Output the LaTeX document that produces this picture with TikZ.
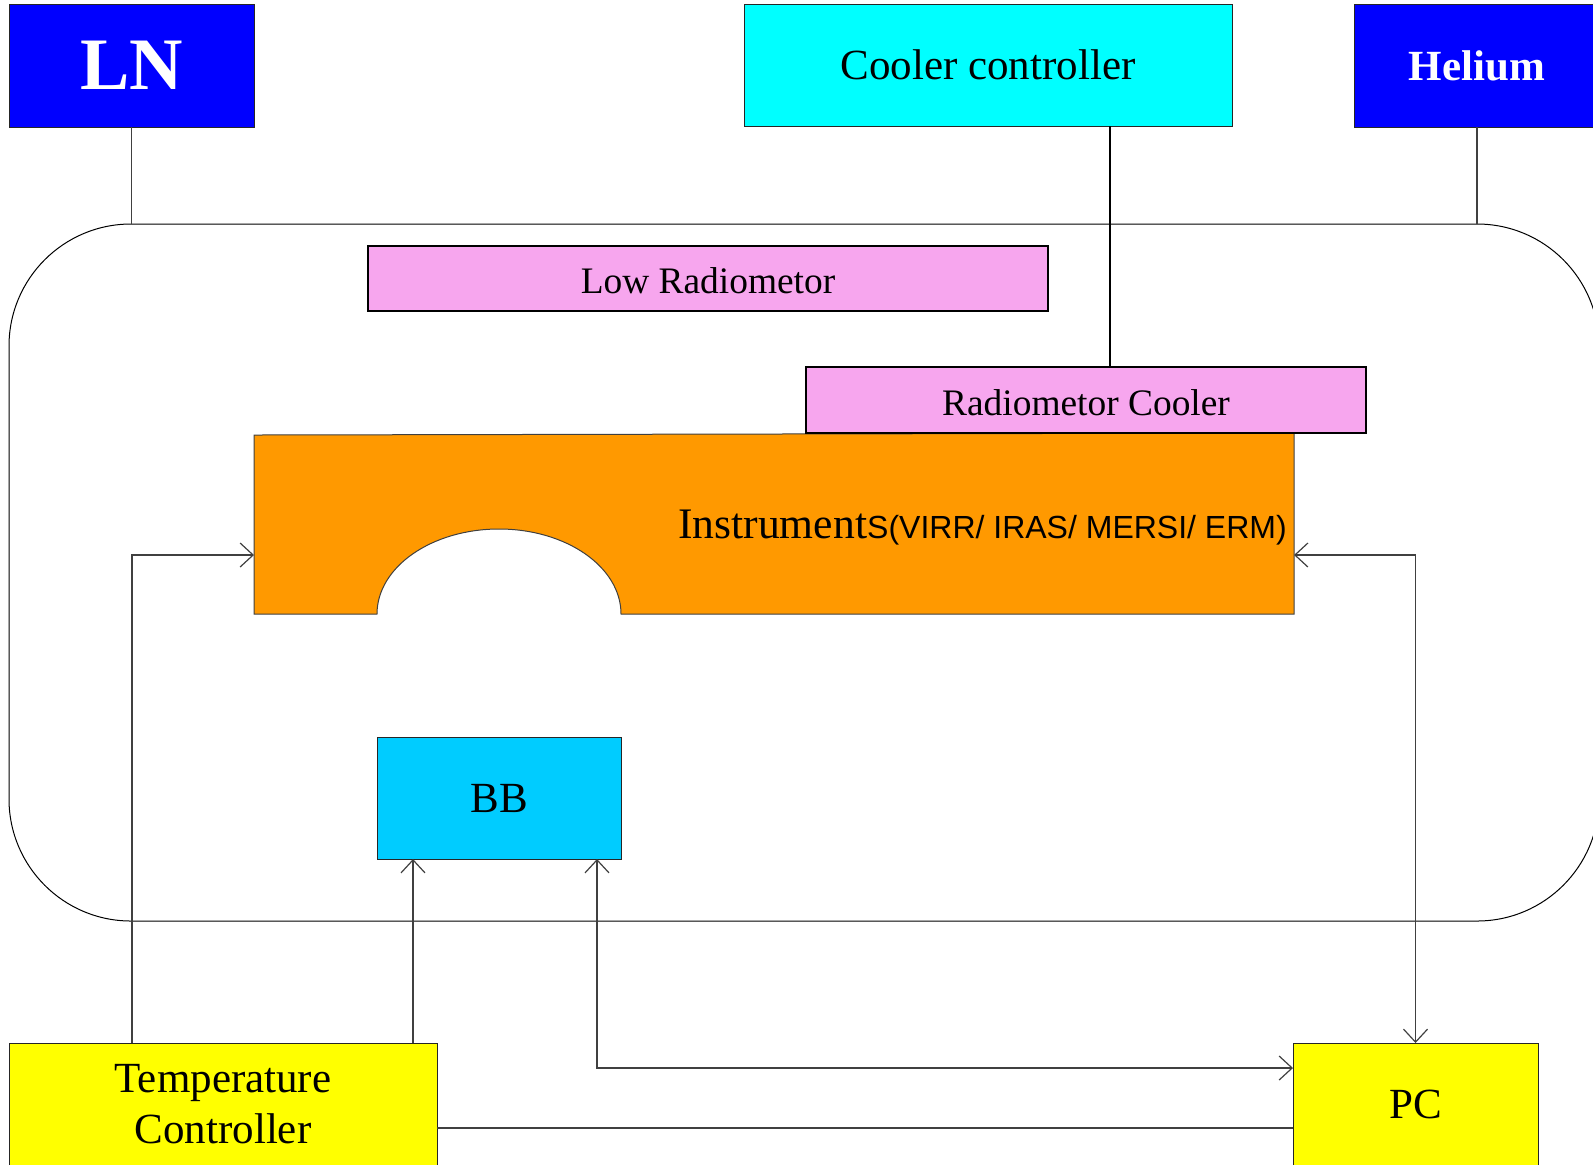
\documentclass[tikz,border=0pt]{standalone}
\usepackage{fontspec}
\setmainfont{Liberation Serif}
\newfontfamily\arialf{Liberation Sans}
\usetikzlibrary{arrows.meta}
\definecolor{boxblue}{HTML}{0000FF}
\definecolor{coolcyan}{HTML}{00FFFF}
\definecolor{bbcyan}{HTML}{00CCFF}
\definecolor{pinkbox}{HTML}{F7A6EE}
\definecolor{orangebox}{HTML}{FF9900}
\definecolor{yelbox}{HTML}{FFFF00}
\definecolor{linegray}{HTML}{404040}
\tikzset{
  box/.style={draw=black!85, line width=0.5pt, inner sep=0pt, outer sep=0pt, align=center},
  conn/.style={draw=linegray, line width=0.6pt},
  arr/.style={conn, -{Straight Barb[length=6.5pt,width=12pt]}},
  darr/.style={conn, {Straight Barb[length=6.5pt,width=12pt]}-{Straight Barb[length=6.5pt,width=12pt]}},
  fsA/.style={font=\fontsize{21.5}{25.5}\selectfont},
  fsB/.style={font=\fontsize{18.7}{22}\selectfont},
}
\begin{document}
\begin{tikzpicture}[x=0.5pt,y=-0.5pt]
\useasboundingbox (0,0) rectangle (1593,1164);
\clip (0,0) rectangle (1593,1164);
% chamber
\node[draw=black, line width=0.5pt, rounded corners=61pt, minimum width=795pt, minimum height=348.5pt, inner sep=0pt, outer sep=0pt] (chamber) at (804,572.5) {};
% instruments shape
\path[draw=black!75, fill=orangebox, line width=0.5pt]
  (254,435) -- (1294,433) -- (1294,614) -- (621,614)
  arc[start angle=0,end angle=180,x radius=61pt,y radius=42.5pt]
  -- (254,614) -- cycle;
\coordinate (instL) at (254,555);
\coordinate (instR) at (1294,555);
\node[anchor=base, inner sep=0pt] (insttext) at (982.5,538)
  {\fontsize{21.8}{26}\selectfont Instrument{\arialf\fontsize{16}{19}\selectfont S(VIRR/ IRAS/ MERSI/ ERM)}};
% boxes
\node[box, fill=boxblue, text=white, font=\fontsize{37}{40}\selectfont\bfseries, minimum width=122.5pt, minimum height=61.5pt] (ln) at (131.5,65.5) {LN};
\node[box, fill=boxblue, text=white, font=\fontsize{21.5}{25}\selectfont\bfseries, minimum width=123pt, minimum height=61.5pt] (helium) at (1477,65.5) {Helium};
\node[box, fill=coolcyan, fsA, minimum width=244pt, minimum height=61pt] (cooler) at (988,65) {Cooler controller};
\node[box, draw=black, line width=1pt, fill=pinkbox, fsB, minimum width=340pt, minimum height=32.5pt, text height=15pt, text depth=0pt] (lowrad) at (708,278.5) {Low Radiometor};
\node[box, draw=black, line width=1pt, fill=pinkbox, fsB, minimum width=280pt, minimum height=33pt, text height=15pt, text depth=0pt] (rcool) at (1086,400) {Radiometor Cooler};
\node[box, fill=bbcyan, fsA, minimum width=122pt, minimum height=61pt] (bb) at (499,798) {BB};
\node[box, fill=yelbox, fsA, minimum width=214pt, minimum height=61pt] (tc) at (223,1104) {Temperature\\Controller};
\node[box, fill=yelbox, fsA, minimum width=122.5pt, minimum height=61pt] (pc) at (1415.5,1104) {PC};
% connectors
\draw[conn] (ln.south) -- (ln.south |- chamber.north);
\draw[conn] (helium.south) -- (helium.south |- chamber.north);
\coordinate (coolA) at ([xshift=61pt]cooler.south);
\draw[draw=black, line width=1.1pt] (coolA) -- (coolA |- rcool.north);
\coordinate (tcA) at ([xshift=61.5pt]tc.north west);
\draw[arr] (tcA) |- (instL);
\coordinate (bbA) at ([xshift=18pt]bb.south west);
\draw[arr] (bbA |- tc.north) -- (bbA);
\coordinate (bbB) at ([xshift=-12pt]bb.south east);
\coordinate (pcL) at ([yshift=-12.5pt]pc.north west);
\draw[darr] (bbB) |- (pcL);
\draw[darr] (instR) -| (pc.north);
\coordinate (tcR) at ([yshift=-12pt]tc.east);
\draw[conn] (tcR) -- (tcR -| pc.west);
\end{tikzpicture}
\end{document}
